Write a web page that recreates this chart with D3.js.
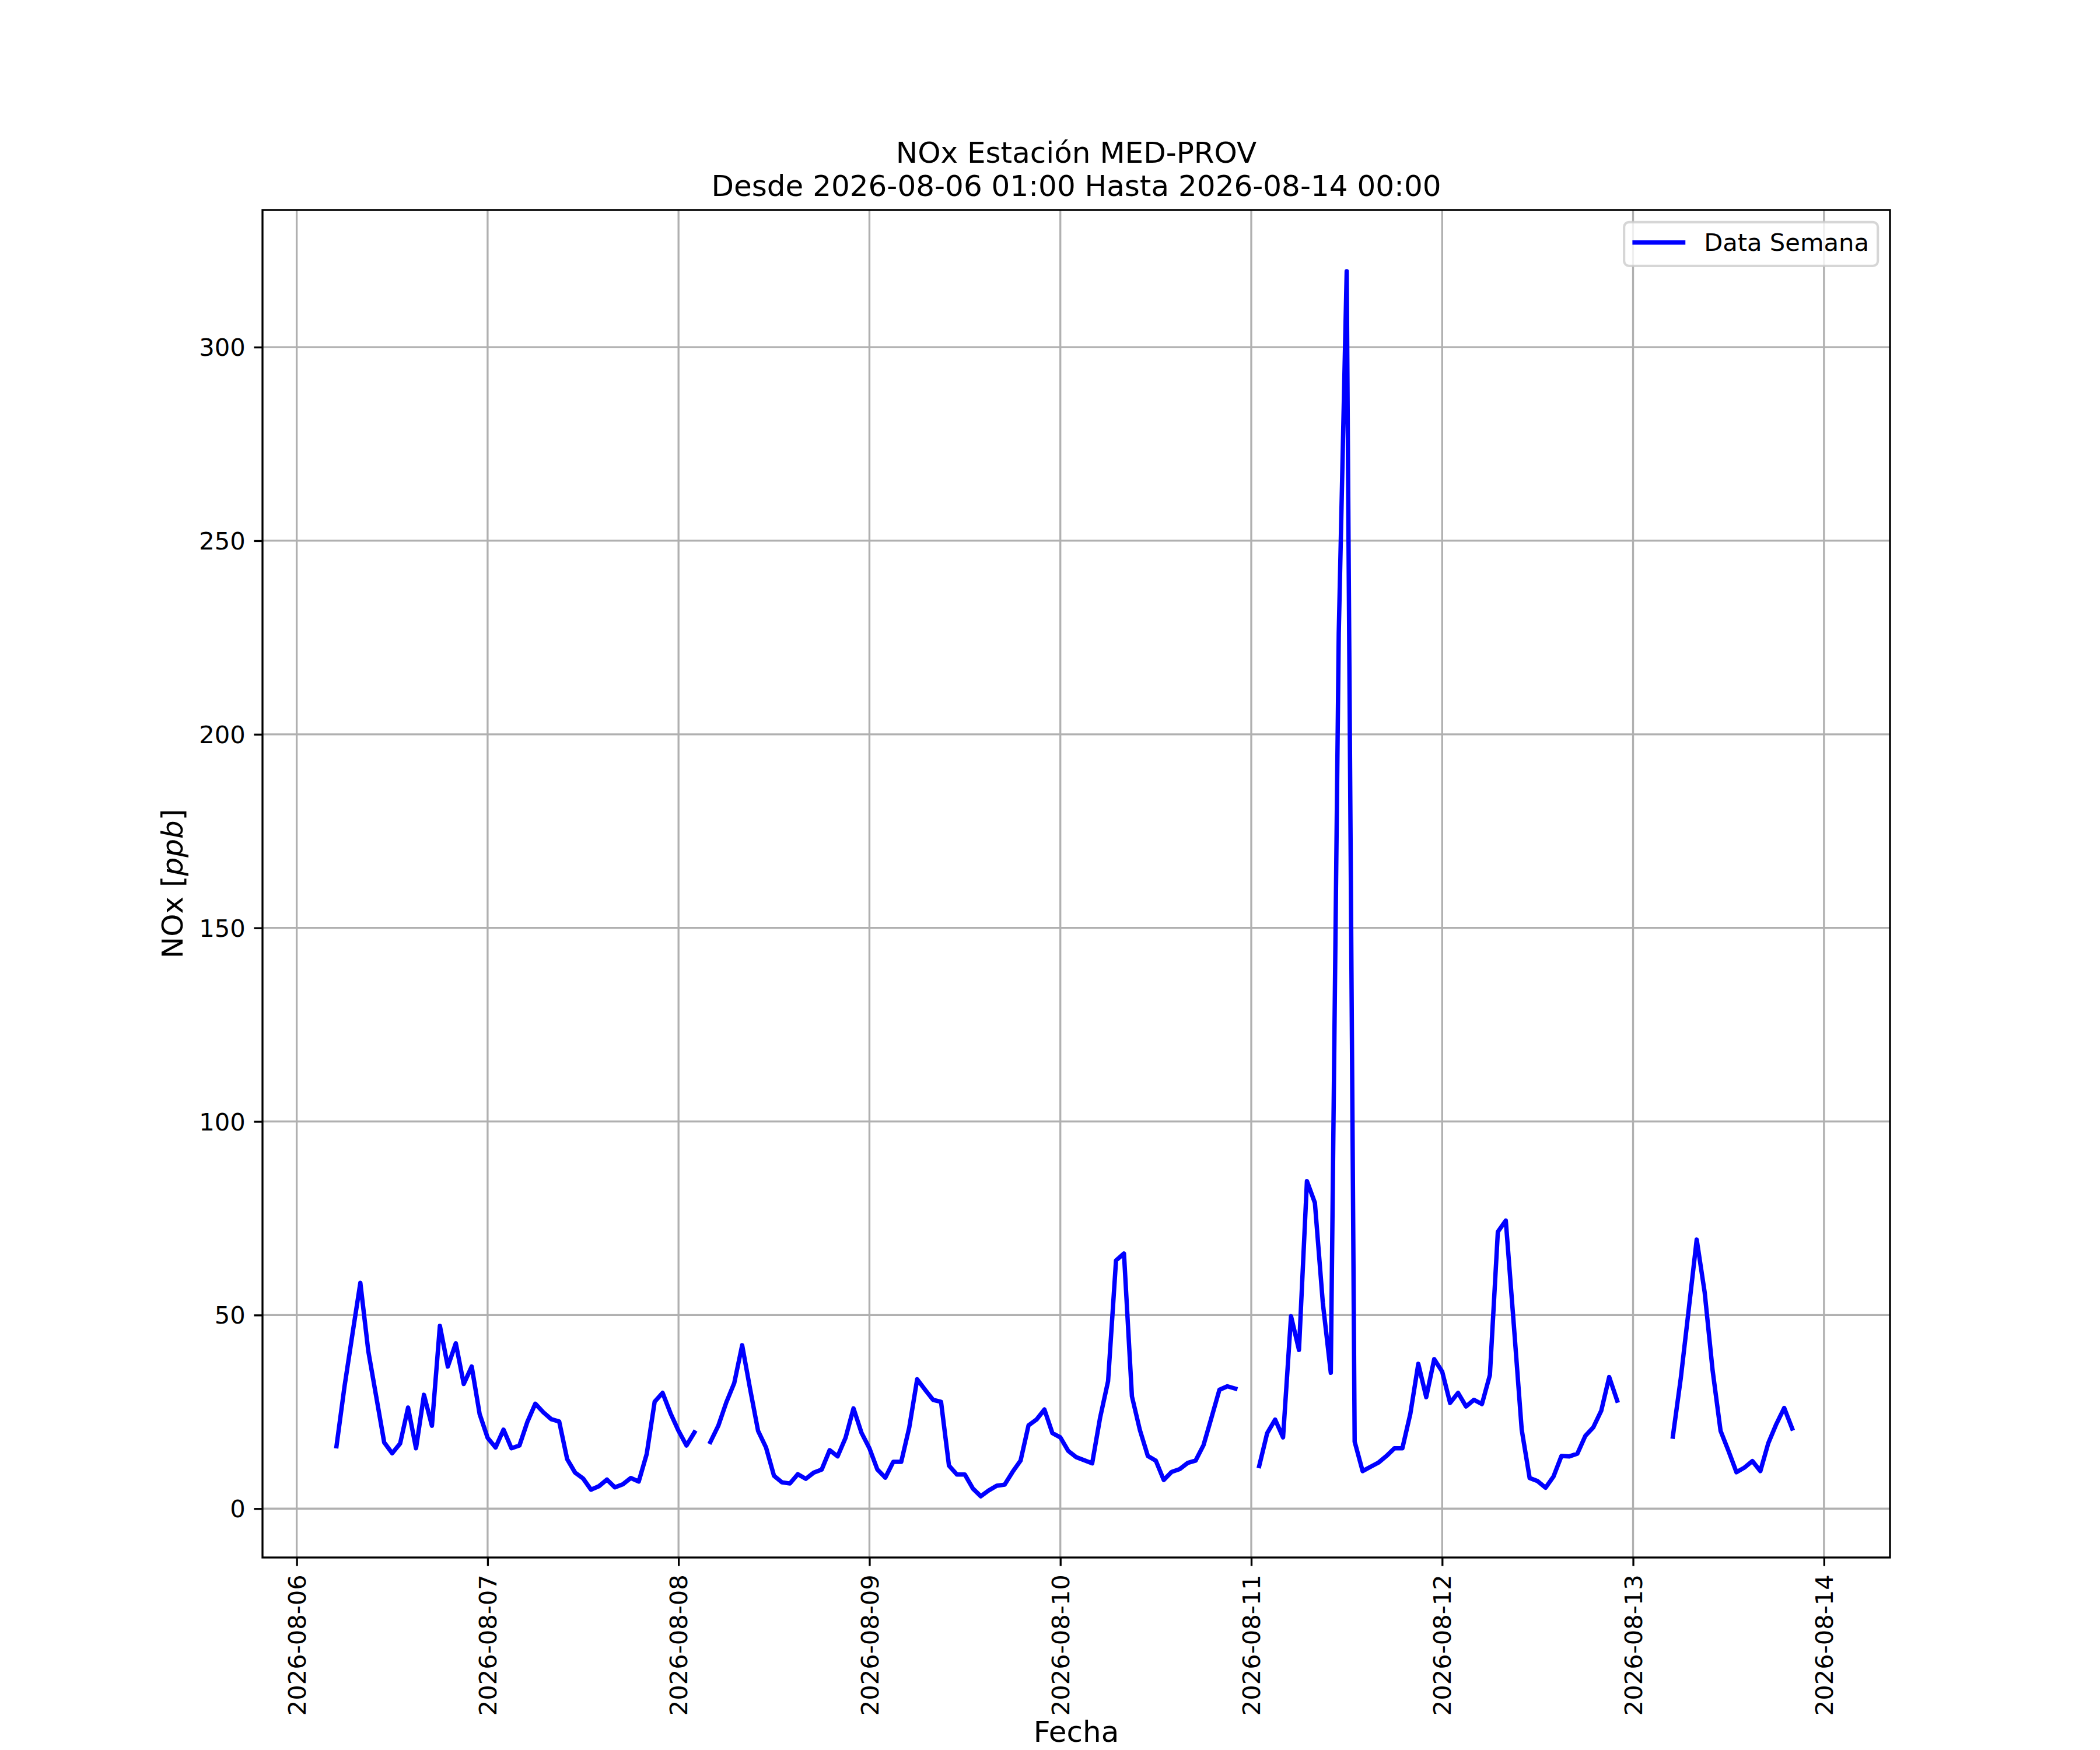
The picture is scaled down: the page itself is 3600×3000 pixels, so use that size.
<!DOCTYPE html>
<head>
  <meta charset="utf-8">
  <script src="https://cdn.jsdelivr.net/npm/d3@7"></script>
  <style>
    body { margin:0; background:#fff; }
    text { font-family: "DejaVu Sans", sans-serif; fill:#000; }
  </style>
</head>

<body>
  <script>
    // hourly NOx readings [ppb], first value at 05:00 on 08-06, null = no data
    var firstHour = "2026-08-06 05:00";
    var noxAug06 = [16.1, 31.4, 45, 58.3, 40.7, 28.9, 17.1, 14.3, 16.8, 26.1, 15.6, 29.4,
                    21.4, 47.2, 36.7, 42.7, 32.2, 36.7, 24.4];
    var noxAug07 = [18.3, 15.8, 20.4, 15.6, 16.3, 22.4, 27.1, 24.9, 23.1, 22.5, 12.8, 9.3,
                    7.8, 4.9, 5.8, 7.5, 5.5, 6.3, 7.9, 7.0, 14.1, 27.6, 29.9, 24.6];
    var noxAug08 = [20.1, 16.3, 19.7, null, 17.2, 21.4, 27.4, 32.4, 42.2, 30.9, 20.1, 15.8,
                    8.5, 6.8, 6.5, 8.9, 7.7, 9.3, 10.1, 15.1, 13.5, 18.3, 25.9, 19.6];
    var noxAug09 = [15.6, 10.1, 8.0, 12.1, 12.1, 20.9, 33.4, 30.7, 28.1, 27.6, 11.1, 8.8,
                    8.8, 5.2, 3.2, 4.7, 5.9, 6.2, 9.5, 12.4, 21.5, 23.0, 25.6, 19.5];
    var noxAug10 = [18.4, 14.9, 13.3, 12.5, 11.7, 23.5, 32.9, 64.1, 65.9, 29.0, 20.3, 13.6,
                    12.4, 7.4, 9.5, 10.2, 11.8, 12.4, 16.4, 23.5, 30.7, 31.6, 31.0, null];
    var noxAug11 = [null, 11.0, 19.5, 23.0, 18.4, 49.7, 41.0, 84.6, 79.0, 53.1, 35.1, 226,
                    319.6, 17.3, 9.7, 10.8, 11.9, 13.6, 15.6, 15.6, 24.5, 37.4, 28.8, 38.6];
    var noxAug12 = [35.4, 27.3, 29.9, 26.4, 28.1, 27.0, 34.5, 71.5, 74.4, 47.7, 20.4, 7.9,
                    7.1, 5.4, 8.3, 13.6, 13.5, 14.2, 18.8, 21.0, 25.3, 34.0, 27.9, null];
    var noxAug13 = [null, null, null, null, null, 18.6, 33.7, 51.5, 69.5, 55.9, 35.7, 20.1,
                    14.9, 9.4, 10.6, 12.3, 9.7, 16.9, 21.8, 26.0, 20.7, null, null, null];

    var dayTicks = ["2026-08-06", "2026-08-07", "2026-08-08", "2026-08-09", "2026-08-10",
                    "2026-08-11", "2026-08-12", "2026-08-13", "2026-08-14"];
    var yTicks = [0, 50, 100, 150, 200, 250, 300];
    var titleLines = ["NOx Estación MED-PROV", "Desde 2026-08-06 01:00 Hasta 2026-08-14 00:00"];
    var seriesName = "Data Semana";

    var width = 3600,
        height = 3000;
    var pt = 300 / 72;   // figure drawn at 300 dpi
    var axLeft = 450, axRight = 3240, axTop = 360, axBottom = 2670;
    var blue = "#0000ff", gridColor = "#b0b0b0";

    var svg = d3.select("body").append("svg")
      .attr("width", width)
      .attr("height", height);

    var parseHour = d3.timeParse("%Y-%m-%d %H:%M"),
        parseDay = d3.timeParse("%Y-%m-%d");
    var t0 = parseHour(firstHour);
    var values = [].concat(noxAug06, noxAug07, noxAug08, noxAug09, noxAug10,
                           noxAug11, noxAug12, noxAug13);
    var data = values.map(function(v, i) {
      return {t: d3.timeHour.offset(t0, i), v: v};
    });

    // 5% margins like matplotlib autoscale
    var tExt = d3.extent(data, function(d) { return +d.t; });
    var vExt = d3.extent(data.filter(function(d) { return d.v !== null; }), function(d) { return d.v; });
    var tPad = (tExt[1] - tExt[0]) * 0.05,
        vPad = (vExt[1] - vExt[0]) * 0.05;

    var xScale = d3.scaleTime()
      .domain([new Date(tExt[0] - tPad), new Date(tExt[1] + tPad)])
      .range([axLeft, axRight]);
    var yScale = d3.scaleLinear()
      .domain([vExt[0] - vPad, vExt[1] + vPad])
      .range([axBottom, axTop]);

    var dayDates = dayTicks.map(function(s) { return parseDay(s); });
    var tickLen = 3.5 * pt, tickPad = 3.5 * pt, lw = 0.8 * pt;

    //grid
    var grid = svg.append('g');
    grid.selectAll('.vgrid')
      .data(dayDates)
      .enter().append('line')
      .attr('x1', function(d) { return xScale(d); })
      .attr('x2', function(d) { return xScale(d); })
      .attr('y1', axTop).attr('y2', axBottom)
      .attr('stroke', gridColor).attr('stroke-width', lw);
    grid.selectAll('.hgrid')
      .data(yTicks)
      .enter().append('line')
      .attr('y1', function(d) { return yScale(d); })
      .attr('y2', function(d) { return yScale(d); })
      .attr('x1', axLeft).attr('x2', axRight)
      .attr('stroke', gridColor).attr('stroke-width', lw);

    //data line
    svg.append('clipPath').attr('id', 'plotarea')
      .append('rect')
      .attr('x', axLeft).attr('y', axTop)
      .attr('width', axRight - axLeft).attr('height', axBottom - axTop);

    var line = d3.line()
      .defined(function(d) { return d.v !== null; })
      .x(function(d) { return xScale(d.t); })
      .y(function(d) { return yScale(d.v); });

    svg.append('path')
      .datum(data)
      .attr('clip-path', 'url(#plotarea)')
      .attr('d', line)
      .attr('fill', 'none')
      .attr('stroke', blue)
      .attr('stroke-width', 1.8 * pt)
      .attr('stroke-linejoin', 'round')
      .attr('stroke-linecap', 'square');

    //axes
    var xAxis = d3.axisBottom(xScale)
      .tickValues(dayDates)
      .tickFormat(d3.timeFormat("%Y-%m-%d"))
      .tickSize(tickLen)
      .tickPadding(tickPad);
    var yAxis = d3.axisLeft(yScale)
      .tickValues(yTicks)
      .tickFormat(d3.format("d"))
      .tickSize(tickLen)
      .tickPadding(tickPad);

    var gx = svg.append('g')
      .attr('transform', 'translate(0,' + axBottom + ')')
      .call(xAxis);
    var gy = svg.append('g')
      .attr('transform', 'translate(' + axLeft + ',0)')
      .call(yAxis);

    [gx, gy].forEach(function(g) {
      g.select('.domain').remove();
      g.attr('font-family', null).attr('font-size', null);
      g.selectAll('.tick line').attr('stroke', '#000').attr('stroke-width', lw);
      g.selectAll('.tick text').style('font-size', (10 * pt) + 'px').attr('fill', '#000');
    });

    gx.selectAll('.tick text')
      .attr('y', 0)
      .attr('x', -(tickLen + tickPad))
      .attr('dy', '0.35em')
      .attr('transform', 'rotate(-90)')
      .style('text-anchor', 'end');
    gy.selectAll('.tick text')
      .attr('dy', '0.35em');

    //frame
    svg.append('rect')
      .attr('x', axLeft).attr('y', axTop)
      .attr('width', axRight - axLeft).attr('height', axBottom - axTop)
      .attr('fill', 'none')
      .attr('stroke', '#000')
      .attr('stroke-width', lw);

    //titles and labels
    svg.selectAll('.title')
      .data(titleLines)
      .enter().append('text')
      .attr('x', (axLeft + axRight) / 2)
      .attr('y', function(d, i) { return 279 + i * 57; })
      .attr('text-anchor', 'middle')
      .style('font-size', (12 * pt) + 'px')
      .text(function(d) { return d; });

    svg.append('text')
      .attr('x', (axLeft + axRight) / 2)
      .attr('y', 2986)
      .attr('text-anchor', 'middle')
      .style('font-size', (12 * pt) + 'px')
      .text('Fecha');

    var ylab = svg.append('text')
      .attr('transform', 'translate(313,' + ((axTop + axBottom) / 2) + ') rotate(-90)')
      .attr('text-anchor', 'middle')
      .style('font-size', (12 * pt) + 'px');
    ylab.append('tspan').text('NOx [');
    ylab.append('tspan').style('font-style', 'italic').text('ppb');
    ylab.append('tspan').text(']');

    //legend
    var fs = 10 * pt;
    var legW = 435, legH = 75;
    var legX = axRight - 0.5 * fs - legW,
        legY = axTop + 0.5 * fs;
    var leg = svg.append('g');
    leg.append('rect')
      .attr('x', legX).attr('y', legY)
      .attr('width', legW).attr('height', legH)
      .attr('rx', 0.2 * fs).attr('ry', 0.2 * fs)
      .attr('fill', '#fff').attr('fill-opacity', 0.8)
      .attr('stroke', '#cccccc').attr('stroke-opacity', 0.8)
      .attr('stroke-width', 1 * pt);
    leg.append('line')
      .attr('x1', legX + 18).attr('x2', legX + 18 + 2 * fs)
      .attr('y1', legY + 35).attr('y2', legY + 35)
      .attr('stroke', blue)
      .attr('stroke-width', 1.8 * pt)
      .attr('stroke-linecap', 'square');
    leg.append('text')
      .attr('x', legX + 137)
      .attr('y', legY + 49)
      .style('font-size', fs + 'px')
      .text(seriesName);
  </script>
</body>
